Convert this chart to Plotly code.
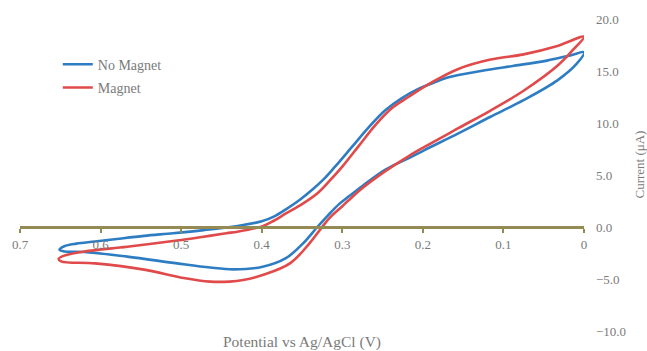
import plotly.graph_objects as go

# Cyclic voltammograms: potential (V vs Ag/AgCl) and current (uA)
# Each loop: forward branch from 0 V to the switching potential, then the return branch.
no_magnet_v = [0.000, 0.017, 0.046, 0.087, 0.128, 0.168, 0.189, 0.205, 0.226, 0.247,
               0.267, 0.288, 0.309, 0.323, 0.337, 0.353, 0.370, 0.385, 0.400, 0.430,
               0.472, 0.510, 0.546, 0.580, 0.607, 0.630, 0.645, 0.651,
               0.645, 0.620, 0.567, 0.505, 0.464, 0.435, 0.400, 0.370, 0.349, 0.331,
               0.318, 0.304, 0.291, 0.275, 0.247, 0.218, 0.198, 0.156, 0.116, 0.075,
               0.033, 0.009, 0.000]
no_magnet_i = [16.8, 16.5, 16.0, 15.5, 15.0, 14.4, 13.8, 13.3, 12.4, 11.2,
               9.6, 7.7, 5.8, 4.6, 3.6, 2.6, 1.7, 1.0, 0.55, 0.1,
               -0.3, -0.6, -0.85, -1.15, -1.4, -1.6, -1.85, -2.2,
               -2.35, -2.4, -2.85, -3.5, -3.9, -4.07, -3.85, -3.0, -1.6, 0.0,
               1.1, 2.2, 3.0, 3.95, 5.5, 6.6, 7.4, 9.0, 10.6, 12.2,
               14.1, 15.7, 16.8]

magnet_v = [0.000, 0.033, 0.075, 0.116, 0.156, 0.189, 0.218, 0.239, 0.259, 0.279,
            0.300, 0.315, 0.330, 0.350, 0.370, 0.385, 0.398, 0.430, 0.444, 0.472,
            0.505, 0.567, 0.620, 0.645, 0.652,
            0.649, 0.607, 0.546, 0.497, 0.464, 0.440, 0.423, 0.398, 0.365, 0.341,
            0.327, 0.316, 0.300, 0.291, 0.275, 0.247, 0.218, 0.198, 0.156, 0.116,
            0.075, 0.033, 0.014, 0.000]
magnet_i = [18.3, 17.4, 16.6, 16.1, 15.2, 13.9, 12.5, 11.4, 9.8, 7.85,
            5.8, 4.5, 3.3, 2.2, 1.3, 0.6, 0.1, -0.45, -0.6, -0.93,
            -1.3, -1.9, -2.36, -2.75, -3.05,
            -3.3, -3.5, -4.1, -4.9, -5.25, -5.25, -5.1, -4.6, -3.5, -1.6,
            -0.2, 0.85, 2.0, 2.65, 3.75, 5.35, 6.8, 7.7, 9.5, 11.2,
            13.1, 15.5, 17.0, 18.3]

x_ticks = [0.7, 0.6, 0.5, 0.4, 0.3, 0.2, 0.1, 0.0]
x_tick_text = ["0.7", "0.6", "0.5", "0.4", "0.3", "0.2", "0.1", "0"]
y_ticks = [-10, -5, 0, 5, 10, 15, 20]

BLUE = "#2E7DC3"
RED = "#E04A4A"
OLIVE = "#948A54"
GRAY = "#7A7A7A"
FONT = "Liberation Serif, Times New Roman, serif"

fig = go.Figure()
fig.add_trace(go.Scatter(x=no_magnet_v, y=no_magnet_i, mode="lines", name="No Magnet",
                         legendgroup="a",
                         line=dict(color=BLUE, width=2.6, shape="spline", smoothing=1.0)))
fig.add_trace(go.Scatter(x=magnet_v, y=magnet_i, mode="lines", name="Magnet",
                         legendgroup="b",
                         line=dict(color=RED, width=2.6, shape="spline", smoothing=1.0)))

fig.update_layout(
    width=647, height=351,
    margin=dict(l=15, r=63, t=18, b=20),
    paper_bgcolor="white", plot_bgcolor="white",
    font=dict(family=FONT, color=GRAY, size=13),
    showlegend=True,
    legend=dict(x=0.067, y=0.905, xanchor="left", yanchor="top",
                bgcolor="rgba(0,0,0,0)", font=dict(size=14, color=GRAY),
                traceorder="grouped", tracegroupgap=2, itemwidth=30),
    xaxis=dict(range=[0.7, 0.0], tickvals=x_ticks, ticktext=x_tick_text,
               showgrid=False, zeroline=False,
               showline=True, linecolor=OLIVE, linewidth=3,
               ticks="outside", ticklen=4, tickwidth=2, tickcolor=OLIVE,
               anchor="free", position=1/3,
               tickfont=dict(size=13, color=GRAY, family=FONT)),
    yaxis=dict(range=[-10, 20], tickvals=y_ticks, tickformat=".1f", side="right",
               showgrid=False, zeroline=False, showline=False, ticks="",
               ticklabelstandoff=11,
               tickfont=dict(size=13, color=GRAY, family=FONT)),
    annotations=[
        dict(text="Potential vs Ag/AgCl (V)", xref="paper", yref="paper",
             x=0.5, y=-0.035, xanchor="center", yanchor="middle", showarrow=False,
             font=dict(size=15.5, color=GRAY, family=FONT)),
        dict(text="Current (μA)", xref="paper", yref="paper",
             x=(640 - 15) / 569, y=0.532, xanchor="center", yanchor="middle",
             textangle=-90, showarrow=False,
             font=dict(size=13, color=GRAY, family=FONT)),
    ],
)

fig.write_html("out.html")
